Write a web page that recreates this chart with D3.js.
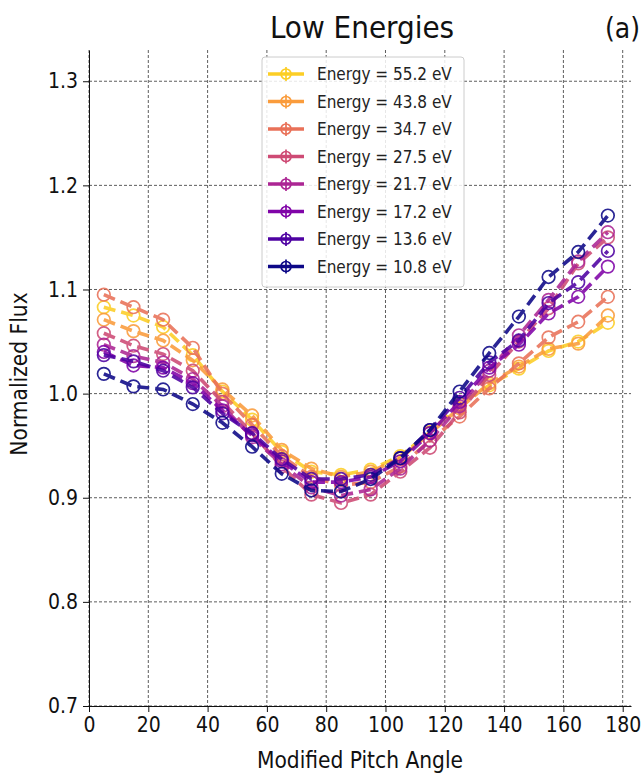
<!DOCTYPE html>
<html><head><meta charset="utf-8">
<script src="https://cdn.jsdelivr.net/npm/d3@7"></script>
<style>body{margin:0;background:#fff;} svg{display:block;font-family:"DejaVu Sans Condensed","DejaVu Sans",sans-serif;}</style>
</head><body>
<svg id="c" width="643" height="776"></svg>
<script>
const angles = [5,15,25,35,45,55,65,75,85,95,105,115,125,135,145,155,165,175];
const energies = ["55.2","43.8","34.7","27.5","21.7","17.2","13.6","10.8"];
const colorT = [0.9,0.771,0.643,0.514,0.386,0.257,0.129,0.0];
const e552 = [1.083,1.075,1.064,1.037,1.002,0.975,0.944,0.925,0.922,0.927,0.940,0.963,0.990,1.008,1.024,1.041,1.050,1.068];
const e438 = [1.071,1.060,1.051,1.032,1.004,0.979,0.946,0.928,0.920,0.925,0.938,0.962,0.986,1.010,1.026,1.043,1.048,1.075];
const e347 = [1.095,1.083,1.071,1.044,1.000,0.970,0.940,0.920,0.912,0.915,0.930,0.955,0.978,1.005,1.029,1.054,1.069,1.093];
const e275 = [1.058,1.046,1.038,1.022,0.992,0.962,0.930,0.903,0.895,0.903,0.925,0.948,0.982,1.018,1.050,1.082,1.125,1.150];
const e217 = [1.047,1.036,1.030,1.014,0.988,0.958,0.932,0.910,0.902,0.908,0.928,0.955,0.988,1.022,1.056,1.090,1.127,1.155];
const e172 = [1.040,1.027,1.025,1.010,0.984,0.960,0.935,0.915,0.915,0.920,0.935,0.962,0.992,1.025,1.047,1.077,1.093,1.122];
const e136 = [1.037,1.031,1.022,1.006,0.981,0.962,0.937,0.918,0.918,0.922,0.938,0.965,0.996,1.030,1.051,1.087,1.107,1.137];
const e108 = [1.019,1.007,1.004,0.990,0.972,0.949,0.923,0.907,0.906,0.918,0.938,0.965,1.002,1.039,1.074,1.112,1.136,1.171];
const seriesVals = [e552,e438,e347,e275,e217,e172,e136,e108];
const xTicks = [0,20,40,60,80,100,120,140,160,180];
const yTicks = [0.7,0.8,0.9,1.0,1.1,1.2,1.3];

const FONT = "'DejaVu Sans Condensed','DejaVu Sans',sans-serif";
const svg = d3.select("#c");
const L = 89, R = 631, T = 50, B = 706;
const x = d3.scaleLinear().domain([0,182.8]).range([L,R]);
const y = d3.scaleLinear().domain([0.7,1.33]).range([B,T]);

// grid
const g = svg.append("g");
g.selectAll(".vg").data(xTicks).join("line")
  .attr("x1",d=>x(d)).attr("x2",d=>x(d)).attr("y1",T).attr("y2",B)
  .attr("stroke","#333").attr("stroke-width",0.8).attr("stroke-dasharray","3,2");
g.selectAll(".hg").data(yTicks).join("line")
  .attr("x1",L).attr("x2",R).attr("y1",d=>y(d)).attr("y2",d=>y(d))
  .attr("stroke","#333").attr("stroke-width",0.8).attr("stroke-dasharray","3,2");

// axes
const xa = svg.append("g").attr("transform",`translate(0,${B})`)
  .call(d3.axisBottom(x).tickValues(xTicks).tickSize(6).tickPadding(5).tickSizeOuter(0));
const ya = svg.append("g").attr("transform",`translate(${L},0)`)
  .call(d3.axisLeft(y).tickValues(yTicks).tickFormat(d3.format(".1f")).tickSize(6).tickPadding(5).tickSizeOuter(0));
[xa,ya].forEach(a=>{
  a.selectAll("text").attr("font-size",21).attr("fill","#111").attr("font-family",FONT);
  a.selectAll("line").attr("stroke","#111");
  a.select(".domain").attr("stroke","#111").attr("stroke-width",1);
});

// series
const line = d3.line().x((d,i)=>x(angles[i])).y(d=>y(d));
seriesVals.forEach((vals,k)=>{
  const col = d3.interpolatePlasma(colorT[k]);
  const sg = svg.append("g").attr("opacity",0.88);
  sg.append("path").datum(vals).attr("d",line).attr("fill","none")
    .attr("stroke",col).attr("stroke-width",3.6).attr("stroke-dasharray","12,6");
  sg.selectAll("circle").data(vals).join("circle")
    .attr("cx",(d,i)=>x(angles[i])).attr("cy",d=>y(d)).attr("r",6.3)
    .attr("fill","none").attr("stroke",col).attr("stroke-width",1.7);
});

// legend
const lg = svg.append("g");
lg.append("rect").attr("x",262).attr("y",57).attr("width",202).attr("height",230).attr("rx",3)
  .attr("fill","#fff").attr("fill-opacity",0.85).attr("stroke","#ccc").attr("stroke-width",1);
energies.forEach((e,k)=>{
  const col = d3.interpolatePlasma(colorT[k]);
  const yy = 74 + k*27.5;
  lg.append("line").attr("x1",268).attr("x2",304).attr("y1",yy).attr("y2",yy).attr("stroke",col).attr("stroke-width",3.6);
  lg.append("line").attr("x1",286).attr("x2",286).attr("y1",yy-7).attr("y2",yy+7).attr("stroke",col).attr("stroke-width",1.7);
  lg.append("circle").attr("cx",286).attr("cy",yy).attr("r",5).attr("fill","none").attr("stroke",col).attr("stroke-width",1.7);
  lg.append("text").attr("x",317).attr("y",yy+6).attr("font-size",17).attr("fill","#222")
    .attr("font-family",FONT).text(`Energy = ${e} eV`);
});

// titles
svg.append("text").attr("x",362).attr("y",38).attr("text-anchor","middle").attr("font-size",31)
  .attr("font-family",FONT).attr("fill","#111").text("Low Energies");
svg.append("text").attr("x",640).attr("y",38).attr("text-anchor","end").attr("font-size",28)
  .attr("font-family",FONT).attr("fill","#111").text("(a)");
svg.append("text").attr("x",360).attr("y",768).attr("text-anchor","middle").attr("font-size",22.5)
  .attr("font-family",FONT).attr("fill","#111").text("Modified Pitch Angle");
svg.append("text").attr("transform","translate(27,374) rotate(-90)").attr("text-anchor","middle").attr("font-size",22.5)
  .attr("font-family",FONT).attr("fill","#111").text("Normalized Flux");
</script>
</body></html>
